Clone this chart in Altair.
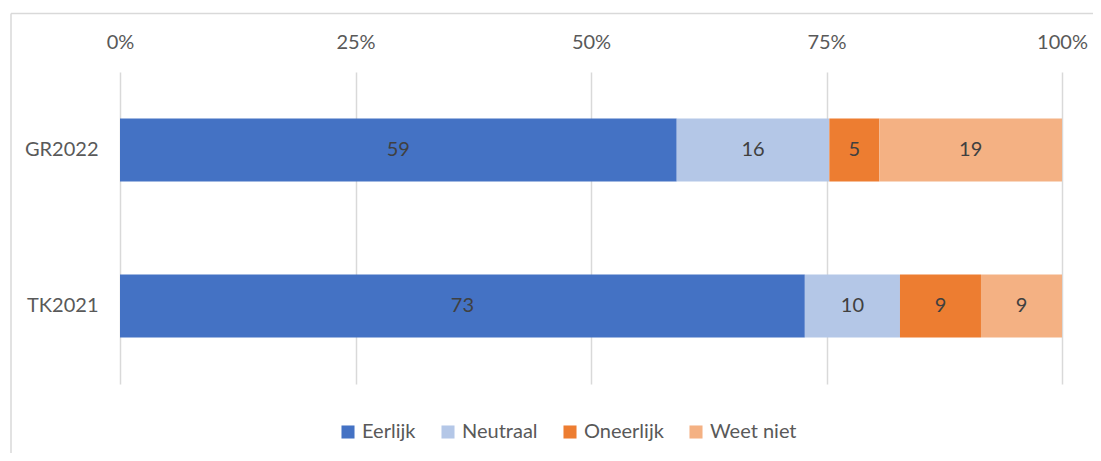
import altair as alt
import pandas as pd

categories = ["GR2022", "TK2021"]
answers = ["Eerlijk", "Neutraal", "Oneerlijk", "Weet niet"]
gr2022 = [59.1, 16.2, 5.3, 19.4]
tk2021 = [72.7, 10.1, 8.6, 8.6]
colors = ["#4472C4", "#B4C7E7", "#ED7D31", "#F4B183"]
ticks = [0, 0.25, 0.5, 0.75, 1.0]

rows = []
for cat, vals in zip(categories, [gr2022, tk2021]):
    for i, (a, v) in enumerate(zip(answers, vals)):
        rows.append({"cat": cat, "answer": a, "value": v, "order": i})
df = pd.DataFrame(rows)

FONT = "Lato"
TXT = "#595959"
FS = 20

base = alt.Chart(df)

bars = base.mark_bar().encode(
    x=alt.X(
        "value:Q",
        stack="normalize",
        scale=alt.Scale(domain=[0, 1], nice=False),
        axis=alt.Axis(
            orient="top", format=".0%", values=ticks, title=None,
            domain=False, ticks=False, labelPadding=20, labelFlush=False,
            grid=True, gridColor="#D9D9D9", gridWidth=1.5,
            labelFontSize=FS, labelColor=TXT, labelFont=FONT,
        ),
    ),
    y=alt.Y(
        "cat:N", sort=categories,
        scale=alt.Scale(paddingInner=0.596, paddingOuter=0.298),
        axis=alt.Axis(
            title=None, domain=False, ticks=False, grid=False, labelPadding=22,
            labelFontSize=FS, labelColor=TXT, labelFont=FONT,
        ),
    ),
    color=alt.Color(
        "answer:N",
        scale=alt.Scale(domain=answers, range=colors),
        legend=alt.Legend(
            title=None, orient="none", direction="horizontal",
            legendX=218, legendY=350, symbolType="square", symbolSize=170,
            symbolStrokeWidth=0, labelFontSize=FS, labelColor=TXT, labelFont=FONT,
            columnPadding=22, labelOffset=4, padding=0,
        ),
    ),
    order=alt.Order("order:Q"),
)

labels = base.transform_joinaggregate(
    total="sum(value)", groupby=["cat"]
).transform_window(
    cum="sum(value)", sort=[alt.SortField("order")], groupby=["cat"], frame=[None, 0]
).transform_calculate(
    mid="(datum.cum - datum.value / 2) / datum.total",
    label="format(datum.value, '.0f')",
).mark_text(fontSize=FS, color="#404040", font=FONT).encode(
    x=alt.X("mid:Q"),
    y=alt.Y("cat:N", sort=categories),
    text="label:N",
)

frame_df = pd.DataFrame({"a": [0]})
top_line = alt.Chart(frame_df).mark_rule(color="#D9D9D9", strokeWidth=1.5).encode(
    x=alt.value(-109), x2=alt.value(1000), y=alt.value(-58.5)
)
left_line = alt.Chart(frame_df).mark_rule(color="#D9D9D9", strokeWidth=1.5).encode(
    x=alt.value(-109), y=alt.value(-58.5), y2=alt.value(500)
)

chart = alt.layer(top_line, left_line, bars, labels).properties(
    width=942, height=312,
    autosize=alt.AutoSizeParams(type="none"),
    padding={"left": 112, "top": 64, "right": 31, "bottom": 69},
).configure_view(stroke=None)

chart.save("out.html", embed_options={"renderer": "svg", "actions": False})
